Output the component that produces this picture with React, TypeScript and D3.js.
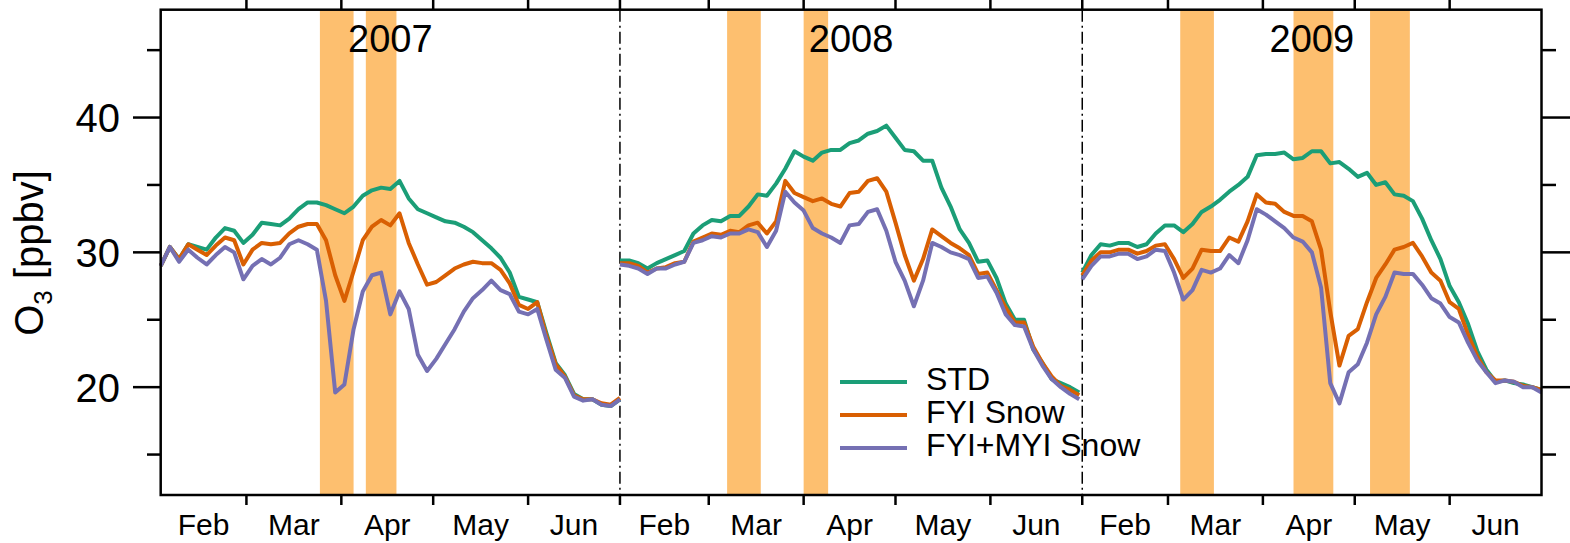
import React, { useEffect, useRef } from 'react';
import * as d3 from 'd3';

const seasons = ['2007', '2008', '2009'];
const seriesNames = ['STD', 'FYI Snow', 'FYI+MYI Snow'];
const seriesColors = ['#1b9e77', '#d95f02', '#7570b3'];
const monthLabels = ['Feb', 'Mar', 'Apr', 'May', 'Jun'];
const yTicks = [20, 30, 40];
const yMinorTicks = [15, 25, 35, 45];

// days since Feb 1 of each season
const sampleDays = [0, 3, 6, 9, 12, 15, 18, 21, 24, 27, 30, 33, 36, 39, 42, 45, 48, 51, 54, 57,
  60, 63, 66, 69, 72, 75, 78, 81, 84, 87, 90, 93, 96, 99, 102, 105, 108, 111, 114, 117,
  120, 123, 126, 129, 132, 135, 138, 141, 144, 147, 150];

const std2007 = [29.0, 30.4, 29.5, 30.6, 30.4, 30.2, 31.1, 31.8, 31.6, 30.7, 31.3, 32.2, 32.1, 32.0, 32.5, 33.2, 33.7, 33.7, 33.5, 33.2,
  32.9, 33.4, 34.2, 34.6, 34.8, 34.7, 35.3, 34.0, 33.2, 32.9, 32.6, 32.3, 32.2, 31.9, 31.5, 30.9, 30.3, 29.6, 28.5, 26.7,
  26.5, 26.3, 24.0, 21.8, 20.9, 19.5, 19.1, 19.1, 18.7, 18.6, 19.1];
const fyi2007 = [29.0, 30.4, 29.5, 30.6, 30.2, 29.8, 30.5, 31.1, 30.9, 29.1, 30.2, 30.7, 30.6, 30.7, 31.4, 31.9, 32.1, 32.1, 30.9, 28.3,
  26.4, 28.6, 30.9, 31.9, 32.4, 32.0, 32.9, 30.7, 29.1, 27.6, 27.8, 28.3, 28.8, 29.1, 29.3, 29.2, 29.2, 28.7, 27.7, 26.1,
  25.8, 26.3, 23.8, 21.7, 20.8, 19.4, 19.1, 19.1, 18.8, 18.7, 19.2];
const myi2007 = [29.0, 30.4, 29.3, 30.2, 29.6, 29.1, 29.8, 30.4, 30.0, 28.0, 29.0, 29.5, 29.1, 29.6, 30.6, 30.9, 30.6, 30.2, 26.4, 19.6,
  20.2, 24.3, 27.1, 28.3, 28.5, 25.4, 27.1, 25.8, 22.4, 21.2, 22.1, 23.2, 24.3, 25.6, 26.6, 27.2, 27.9, 27.2, 26.9, 25.6,
  25.4, 25.8, 23.5, 21.3, 20.7, 19.3, 19.0, 19.1, 18.7, 18.6, 19.1];

const std2008 = [29.4, 29.4, 29.2, 28.8, 29.2, 29.5, 29.8, 30.1, 31.4, 32.0, 32.4, 32.3, 32.7, 32.7, 33.4, 34.3, 34.2, 35.1, 36.2, 37.5,
  37.1, 36.8, 37.4, 37.6, 37.6, 38.1, 38.3, 38.8, 39.0, 39.4, 38.5, 37.6, 37.5, 36.8, 36.8, 34.8, 33.4, 31.7, 30.7, 29.3,
  29.4, 28.1, 26.2, 25.0, 25.0, 22.8, 21.8, 20.6, 20.3, 20.0, 19.6];
const fyi2008 = [29.2, 29.2, 29.0, 28.5, 28.8, 28.9, 29.2, 29.3, 30.8, 31.1, 31.4, 31.3, 31.6, 31.5, 32.0, 32.2, 31.4, 32.3, 35.3, 34.4,
  34.1, 33.8, 34.0, 33.6, 33.4, 34.4, 34.5, 35.3, 35.5, 34.5, 32.2, 29.8, 27.9, 29.5, 31.7, 31.2, 30.7, 30.3, 29.8, 28.4,
  28.5, 27.2, 25.9, 24.8, 24.8, 23.0, 21.8, 20.8, 20.1, 19.8, 19.4];
const myi2008 = [29.1, 29.0, 28.8, 28.4, 28.8, 28.8, 29.1, 29.3, 30.7, 30.9, 31.2, 31.1, 31.4, 31.4, 31.7, 31.5, 30.4, 31.6, 34.5, 33.7,
  33.1, 31.8, 31.4, 31.1, 30.7, 32.0, 32.1, 33.0, 33.2, 31.6, 29.3, 27.9, 26.0, 27.9, 30.7, 30.4, 30.0, 29.8, 29.5, 28.1,
  28.2, 27.0, 25.4, 24.6, 24.5, 22.8, 21.6, 20.6, 20.0, 19.5, 19.1];

const std2009 = [28.5, 29.8, 30.6, 30.5, 30.7, 30.7, 30.4, 30.6, 31.4, 32.0, 32.0, 31.5, 32.1, 33.0, 33.4, 33.9, 34.5, 35.0, 35.6, 37.2,
  37.3, 37.3, 37.4, 36.9, 37.0, 37.5, 37.5, 36.6, 36.7, 36.2, 35.6, 35.9, 35.0, 35.2, 34.3, 34.2, 33.8, 32.5, 30.9, 29.5,
  27.5, 26.3, 24.7, 22.7, 21.3, 20.4, 20.5, 20.3, 20.2, 20.0, 19.8];
const fyi2009 = [28.3, 29.4, 30.0, 30.0, 30.2, 30.2, 29.9, 30.1, 30.5, 30.6, 29.5, 28.1, 28.8, 30.2, 30.1, 30.1, 31.1, 30.8, 32.3, 34.3,
  33.7, 33.6, 33.0, 32.7, 32.7, 32.3, 30.2, 25.6, 21.6, 23.8, 24.3, 26.3, 28.1, 29.1, 30.2, 30.4, 30.7, 29.7, 28.5, 27.9,
  26.3, 25.8, 23.9, 22.3, 21.1, 20.5, 20.5, 20.4, 20.1, 20.0, 19.8];
const myi2009 = [28.0, 29.0, 29.7, 29.7, 29.9, 29.9, 29.5, 29.7, 30.2, 30.1, 28.5, 26.5, 27.2, 28.7, 28.5, 28.8, 29.8, 29.2, 30.9, 33.2,
  32.8, 32.3, 31.8, 31.1, 30.8, 30.0, 27.4, 20.3, 18.8, 21.1, 21.7, 23.3, 25.4, 26.7, 28.5, 28.4, 28.4, 27.6, 26.6, 26.2,
  25.2, 24.8, 23.3, 22.0, 21.1, 20.3, 20.5, 20.4, 20.0, 20.0, 19.6];

// snow periods (shaded)
const bands2007 = [['2007-03-25', '2007-04-05'], ['2007-04-09', '2007-04-19']];
const bands2008 = [['2008-03-07', '2008-03-18'], ['2008-04-01', '2008-04-09']];
const bands2009 = [['2009-03-05', '2009-03-16'], ['2009-04-11', '2009-04-24'], ['2009-05-06', '2009-05-19']];

const stdSeries = [std2007, std2008, std2009];
const fyiSeries = [fyi2007, fyi2008, fyi2009];
const myiSeries = [myi2007, myi2008, myi2009];
const bandSeries = [bands2007, bands2008, bands2009];

const FONT = 'Liberation Sans, Arial, Helvetica, sans-serif';

const OzoneChart: React.FC = () => {
  const svgRef = useRef<SVGSVGElement>(null);

  useEffect(() => {
    if (!svgRef.current) return;
    const svg = d3.select(svgRef.current);
    svg.selectAll('*').remove();

    const left = 160.7, right = 1541.5, top = 9.7, bottom = 495;
    const parse = d3.utcParse('%Y-%m-%d');

    const starts = seasons.map(s => new Date(Date.UTC(+s, 1, 1)));
    const ends = seasons.map(s => new Date(Date.UTC(+s, 6, 1)));
    const lens = starts.map((s, i) => d3.utcDay.count(s, ends[i]));
    const offsets = Array.from(d3.cumsum([0, ...lens]));
    const total = offsets[offsets.length - 1];

    const x = d3.scaleLinear().domain([0, total]).range([left, right]);
    const y = d3.scaleLinear().domain([12, 48]).range([bottom, top]);
    const xDate = (d: Date, i: number) => x(offsets[i] + d3.utcDay.count(starts[i], d));

    // shaded snow periods
    bandSeries.forEach((bands, i) => {
      bands.forEach(([a, b]) => {
        const x0 = xDate(parse(a)!, i);
        const x1 = xDate(parse(b)!, i);
        svg.append('rect')
          .attr('x', x0).attr('y', top)
          .attr('width', x1 - x0).attr('height', bottom - top)
          .attr('fill', '#fdbf6f');
      });
    });

    // season separators
    offsets.slice(1, -1).forEach(o => {
      svg.append('line')
        .attr('x1', x(o)).attr('x2', x(o))
        .attr('y1', top).attr('y2', bottom)
        .attr('stroke', '#000').attr('stroke-width', 1.5)
        .attr('stroke-dasharray', '12,4,2,4');
    });

    // series lines
    const all = [stdSeries, fyiSeries, myiSeries];
    all.forEach((series, s) => {
      series.forEach((vals, i) => {
        const line = d3.line<number>()
          .x((_: number, k: number) => x(offsets[i] + sampleDays[k]))
          .y((v: number) => y(v));
        svg.append('path')
          .datum(vals)
          .attr('fill', 'none')
          .attr('stroke', seriesColors[s])
          .attr('stroke-width', 4)
          .attr('stroke-linejoin', 'round')
          .attr('d', line);
      });
    });

    // frame
    svg.append('rect')
      .attr('x', left).attr('y', top)
      .attr('width', right - left).attr('height', bottom - top)
      .attr('fill', 'none').attr('stroke', '#000').attr('stroke-width', 2.5);

    // y ticks both sides
    yTicks.forEach(t => {
      svg.append('line').attr('x1', 133).attr('x2', left).attr('y1', y(t)).attr('y2', y(t))
        .attr('stroke', '#000').attr('stroke-width', 2.5);
      svg.append('line').attr('x1', right).attr('x2', 1570).attr('y1', y(t)).attr('y2', y(t))
        .attr('stroke', '#000').attr('stroke-width', 2.5);
      svg.append('text')
        .attr('x', 120).attr('y', y(t)).attr('dy', '0.36em')
        .attr('text-anchor', 'end')
        .attr('font-family', FONT).attr('font-size', 40)
        .text(t);
    });
    yMinorTicks.forEach(t => {
      svg.append('line').attr('x1', 147).attr('x2', left).attr('y1', y(t)).attr('y2', y(t))
        .attr('stroke', '#000').attr('stroke-width', 2.5);
      svg.append('line').attr('x1', right).attr('x2', 1556).attr('y1', y(t)).attr('y2', y(t))
        .attr('stroke', '#000').attr('stroke-width', 2.5);
    });

    // month ticks and labels
    const tickPos: number[] = [];
    starts.forEach((s, i) => {
      const months = d3.utcMonth.range(s, ends[i]);
      months.forEach((m, j) => {
        if (j > 0) tickPos.push(xDate(m, i));
        const next = d3.utcMonth.offset(m, 1);
        const cx = (xDate(m, i) + xDate(next, i)) / 2;
        svg.append('text')
          .attr('x', cx).attr('y', 535)
          .attr('text-anchor', 'middle')
          .attr('font-family', FONT).attr('font-size', 30)
          .text(monthLabels[j]);
      });
    });
    offsets.slice(1, -1).forEach(o => tickPos.push(x(o)));
    tickPos.forEach(px => {
      svg.append('line').attr('x1', px).attr('x2', px).attr('y1', bottom).attr('y2', bottom + 10)
        .attr('stroke', '#000').attr('stroke-width', 2.5);
      svg.append('line').attr('x1', px).attr('x2', px).attr('y1', 0).attr('y2', top)
        .attr('stroke', '#000').attr('stroke-width', 2.5);
    });

    // season titles
    seasons.forEach((s, i) => {
      svg.append('text')
        .attr('x', (x(offsets[i]) + x(offsets[i + 1])) / 2).attr('y', 52)
        .attr('text-anchor', 'middle')
        .attr('font-family', FONT).attr('font-size', 38)
        .text(s);
    });

    // y title
    const title = svg.append('text')
      .attr('transform', 'translate(43,253) rotate(-90)')
      .attr('text-anchor', 'middle')
      .attr('font-family', FONT).attr('font-size', 40);
    title.append('tspan').text('O');
    title.append('tspan').attr('font-size', 26).attr('dy', 9).text('3');
    title.append('tspan').attr('dy', -9).text(' [ppbv]');

    // legend
    seriesNames.forEach((name, i) => {
      const base = 390 + i * 33;
      svg.append('line')
        .attr('x1', 840).attr('x2', 907)
        .attr('y1', base - 8).attr('y2', base - 8)
        .attr('stroke', seriesColors[i]).attr('stroke-width', 4);
      svg.append('text')
        .attr('x', 926).attr('y', base)
        .attr('font-family', FONT).attr('font-size', 32)
        .text(name);
    });
  }, []);

  return <svg ref={svgRef} width={1570} height={543} style={{ position: 'absolute', left: 0, top: 0, background: '#fff' }} />;
};

export default function App() {
  return <OzoneChart />;
}
